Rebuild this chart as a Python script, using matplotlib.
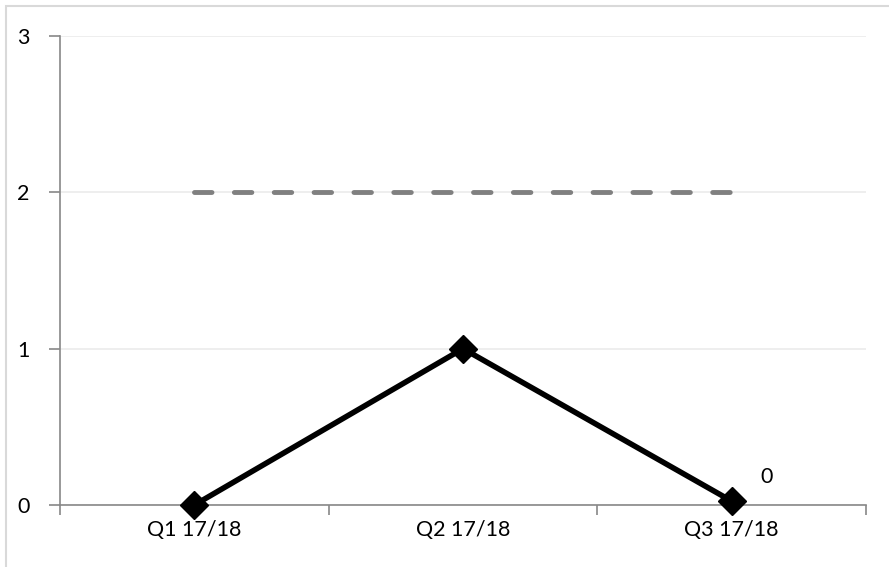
import matplotlib.pyplot as plt
from matplotlib.patches import Rectangle

plt.rcParams['font.family'] = ['Lato', 'DejaVu Sans']

quarters = ["Q1 17/18", "Q2 17/18", "Q3 17/18"]
actual = [0, 1, 0.025]
target = [2, 2, 2]

W, H = 889, 567
fig = plt.figure(figsize=(W / 100, H / 100), dpi=100)

# chart area frame (left and top edges inside the canvas)
fig.patches.append(Rectangle((6 / W, -0.1), 1.1, 1.1 - 6 / H, transform=fig.transFigure,
                             fill=False, edgecolor='#d9d9d9', linewidth=1.5))

ax = fig.add_axes([60 / W, 1 - 505 / H, (866 - 60) / W, (505 - 36) / H])
x = list(range(len(quarters)))

ax.set_xlim(-0.5, len(quarters) - 0.5)
ax.set_ylim(0, 3)
ax.set_yticks([0, 1, 2, 3])
ax.set_yticklabels(["0", "1", "2", "3"])
ax.yaxis.grid(True, color='#ebebeb', linewidth=1.2)
ax.set_axisbelow(True)

ax.set_xticks(x)
ax.set_xticklabels(quarters)
ax.tick_params(axis='x', length=0, pad=11, labelsize=15.5)
ax.set_xticks([-0.5, 0.5, 1.5, 2.5], minor=True)
ax.tick_params(axis='x', which='minor', length=7, color='#888888', width=1.2)
ax.tick_params(axis='y', length=8, color='#888888', width=1.2, pad=14, labelsize=15.5)

for s in ['top', 'right']:
    ax.spines[s].set_visible(False)
for s in ['left', 'bottom']:
    ax.spines[s].set_color('#888888')
    ax.spines[s].set_linewidth(1.2)

ax.plot(x, target, color='#808080', linewidth=3.5, linestyle=(0, (3.6, 4.6)),
        dash_capstyle='round', zorder=2)
ax.plot(x, actual, color='black', linewidth=4, marker='D', markersize=14.5,
        zorder=3, clip_on=False)

ax.annotate(f"{actual[-1]:.0f}", xy=(x[-1], actual[-1]), xytext=(35, 24),
            textcoords='offset pixels', ha='center', va='center', fontsize=15.5)

fig.savefig("out.png", dpi=100)
